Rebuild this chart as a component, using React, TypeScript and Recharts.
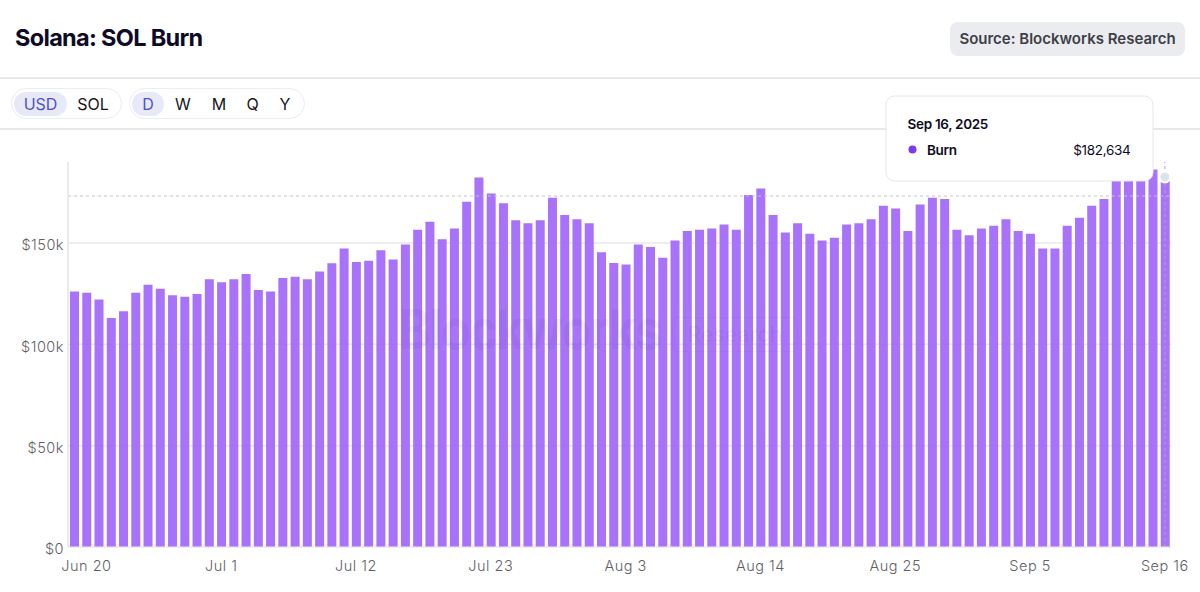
import { BarChart, Bar, XAxis, YAxis, CartesianGrid, ReferenceLine, ReferenceDot, Tooltip } from "recharts"

const dates = [
  "Jun 19", "Jun 20", "Jun 21", "Jun 22", "Jun 23", "Jun 24", "Jun 25", "Jun 26", "Jun 27", "Jun 28", "Jun 29", "Jun 30",
  "Jul 1", "Jul 2", "Jul 3", "Jul 4", "Jul 5", "Jul 6", "Jul 7", "Jul 8", "Jul 9", "Jul 10", "Jul 11", "Jul 12", "Jul 13",
  "Jul 14", "Jul 15", "Jul 16", "Jul 17", "Jul 18", "Jul 19", "Jul 20", "Jul 21", "Jul 22", "Jul 23", "Jul 24", "Jul 25",
  "Jul 26", "Jul 27", "Jul 28", "Jul 29", "Jul 30", "Jul 31", "Aug 1", "Aug 2", "Aug 3", "Aug 4", "Aug 5", "Aug 6", "Aug 7",
  "Aug 8", "Aug 9", "Aug 10", "Aug 11", "Aug 12", "Aug 13", "Aug 14", "Aug 15", "Aug 16", "Aug 17", "Aug 18", "Aug 19",
  "Aug 20", "Aug 21", "Aug 22", "Aug 23", "Aug 24", "Aug 25", "Aug 26", "Aug 27", "Aug 28", "Aug 29", "Aug 30", "Aug 31",
  "Sep 1", "Sep 2", "Sep 3", "Sep 4", "Sep 5", "Sep 6", "Sep 7", "Sep 8", "Sep 9", "Sep 10", "Sep 11", "Sep 12", "Sep 13",
  "Sep 14", "Sep 15", "Sep 16",
]

const burn = [
  126100, 125500, 122200, 113000, 116300, 125500, 129400, 127400, 124200, 123500, 124800, 132100, 130700, 132100, 134700,
  126800, 126100, 132700, 133400, 132100, 136000, 140000, 147300, 140600, 141300, 146500, 141900,
  149300, 156600, 160500, 151900, 157200, 170400, 182400, 174500, 169700, 161200, 159800, 161200, 172300, 163800, 161800,
  159800, 145400, 140100, 139400, 149300, 148000, 142700, 151300, 155900, 156600, 157200, 159200, 156600, 173700, 176900,
  163800, 155200, 159800,
  154600, 151300, 152600, 159200, 159800, 161800, 168400, 167100, 155900, 169000, 172300, 171700, 156600, 153900, 157200,
  158500, 161800, 155900, 154600, 147300, 147300, 158500, 162500, 168400, 171700, 184000, 186000, 183000, 186300, 182634,
]

const xTicks = ["Jun 20", "Jul 1", "Jul 12", "Jul 23", "Aug 3", "Aug 14", "Aug 25", "Sep 5", "Sep 16"]
const yTicks = [0, 50000, 100000, 150000]
const usdSol = ["USD", "SOL"]
const periods = ["D", "W", "M", "Q", "Y"]

const data = dates.map((date, i) => ({ date, burn: burn[i] }))

const font = "Inter, sans-serif"

function formatUsd(v: number) {
  return v === 0 ? "$0" : `$${v / 1000}k`
}

function Pill({ items, left, width, widths }: { items: string[]; left: number; width: number; widths: number[] }) {
  return (
    <div
      style={{
        position: "absolute",
        left,
        top: 88,
        width,
        height: 31,
        boxSizing: "border-box",
        border: "1.5px solid #ebebf6",
        borderRadius: 16,
        display: "flex",
        alignItems: "center",
        paddingLeft: 2,
      }}
    >
      {items.map((item, i) => (
        <div
          key={item}
          style={{
            width: widths[i],
            height: 24,
            lineHeight: "24px",
            textAlign: "center",
            borderRadius: 12,
            fontSize: 16,
            background: i === 0 ? "#e8e9f8" : "transparent",
            color: i === 0 ? "#4f52c4" : "#16151c",
          }}
        >
          {item}
        </div>
      ))}
    </div>
  )
}

function BurnTooltip({ payload }: any) {
  const value = payload?.[0]?.value ?? 182634
  return (
    <div
      style={{
        width: 268,
        height: 86,
        boxSizing: "border-box",
        background: "#fff",
        border: "1.5px solid #e6e6eb",
        borderRadius: 9,
        position: "relative",
        fontFamily: font,
        fontSize: 13.5,
        letterSpacing: -0.3,
        color: "#0d0c1d",
      }}
    >
      <div style={{ position: "absolute", left: 21, top: 19, fontWeight: 600 }}>Sep 16, 2025</div>
      <div style={{ position: "absolute", left: 21.5, top: 49, width: 8, height: 8, borderRadius: 4, background: "#7c3aed" }} />
      <div style={{ position: "absolute", left: 40.5, top: 45, fontWeight: 600 }}>Burn</div>
      <div style={{ position: "absolute", right: 22, top: 45 }}>${value.toLocaleString("en-US")}</div>
    </div>
  )
}

export default function App() {
  return (
    <div
      style={{
        position: "absolute",
        left: 0,
        top: 0,
        width: 1200,
        height: 592,
        overflow: "hidden",
        background: "#fff",
        fontFamily: font,
      }}
    >
      <div style={{ position: "absolute", left: 15, top: 23, fontSize: 23.5, fontWeight: 700, letterSpacing: -0.68, color: "#0d0b26" }}>
        Solana: SOL Burn
      </div>
      <div
        style={{
          position: "absolute",
          left: 950,
          top: 22,
          width: 235,
          height: 34,
          lineHeight: "34px",
          textAlign: "center",
          borderRadius: 8,
          background: "#ebecef",
          color: "#3d3f48",
          fontSize: 15,
          fontWeight: 600,
          whiteSpace: "nowrap",
        }}
      >
        Source: Blockworks Research
      </div>
      <div style={{ position: "absolute", left: 0, top: 77, width: 1200, height: 1.5, background: "#e8e8ec" }} />
      <Pill items={usdSol} left={11} width={111} widths={[53, 52]} />
      <div style={{ position: "absolute", left: 0, top: 128, width: 1200, height: 1.5, background: "#e8e8ec" }} />
      <Pill items={periods} left={129} width={176} widths={[32, 38, 34, 33, 32]} />

      <div style={{ position: "absolute", left: 0, top: 0 }}>
        <BarChart
          width={1200}
          height={592}
          data={data}
          margin={{ top: 162, right: 29, bottom: 0, left: 0 }}
        >
          <CartesianGrid vertical={false} syncWithTicks stroke="#e8e8ec" strokeWidth={1.5} />
          <XAxis
            dataKey="date"
            ticks={xTicks}
            interval={0}
            height={45}
            axisLine={{ stroke: "#eeeef2" }}
            tickLine={false}
            tickMargin={8}
            tick={{ fill: "#5f5f66", fontSize: 14.5, fontWeight: 300, fontFamily: font, letterSpacing: 0.5 }}
          />
          <YAxis
            width={68}
            domain={[0, 190000]}
            ticks={yTicks}
            tickFormatter={formatUsd}
            axisLine={{ stroke: "#e5e5e9", strokeWidth: 1.5 }}
            tickLine={false}
            tickSize={0}
            tickMargin={4}
            tick={{ fill: "#5f5f66", fontSize: 14.5, fontWeight: 300, fontFamily: font, letterSpacing: 0.5, dy: 2 }}
          />
          <Bar dataKey="burn" fill="#9f64fa" fillOpacity={0.9} barSize={9} isAnimationActive={false} />
          <ReferenceLine y={173200} stroke="#c4c4cc" strokeDasharray="3 3" />
          <ReferenceLine x="Sep 16" stroke="#a9a9b5" strokeDasharray="3 3" />
          <ReferenceDot x="Sep 16" y={182634} r={5.5} fill="#dde3ea" stroke="#fff" strokeWidth={2} />
          <Tooltip
            defaultIndex={89}
            position={{ x: 885.5, y: 95.5 }}
            cursor={false}
            isAnimationActive={false}
            content={<BurnTooltip />}
          />
        </BarChart>
      </div>

      <div
        style={{
          position: "absolute",
          left: 399,
          top: 296,
          fontSize: 55,
          fontWeight: 700,
          letterSpacing: -1,
          transform: "scaleX(0.86)",
          transformOrigin: "left center",
          color: "rgba(40,30,90,0.06)",
          pointerEvents: "none",
        }}
      >
        Blockworks
      </div>
      <div
        style={{
          position: "absolute",
          left: 672,
          top: 317,
          width: 126,
          height: 35,
          lineHeight: "33px",
          boxSizing: "border-box",
          textAlign: "center",
          border: "1.5px solid rgba(40,30,90,0.05)",
          borderRadius: 6,
          fontSize: 21,
          fontWeight: 600,
          color: "rgba(40,30,90,0.06)",
          pointerEvents: "none",
        }}
      >
        Research
      </div>
    </div>
  )
}
